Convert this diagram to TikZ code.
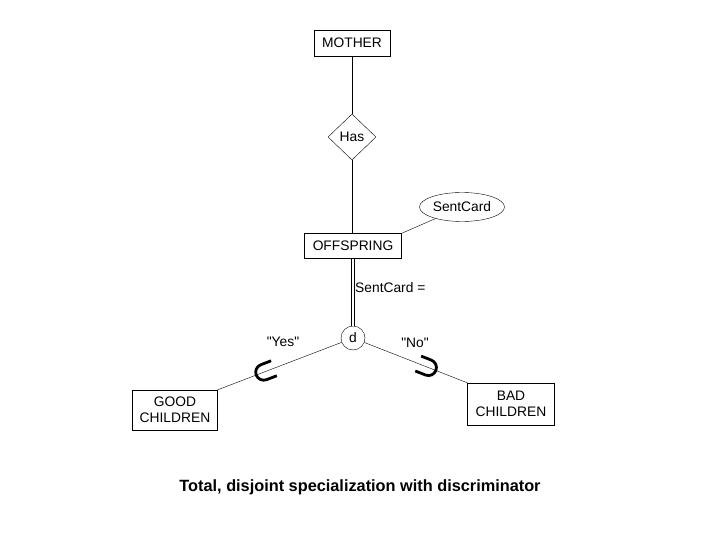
\documentclass[tikz,border=0pt]{standalone}
\usepackage{fontspec}
\setmainfont{Liberation Sans}[Ligatures=TeXOff]
\usetikzlibrary{shapes.geometric,calc}
\begin{document}
\begin{tikzpicture}[x=1pt,y=-1pt,
  lbl/.style={font=\fontsize{13.8}{16}\selectfont},
  ent/.style={draw, rectangle, inner sep=0pt, align=center, lbl},
  subsetmark/.style={line width=2.8pt}]
\useasboundingbox (0,0) rectangle (720,540);
\node[ent, minimum width=76pt, minimum height=26pt] (mother) at (352,43) {MOTHER};
\node[diamond, draw, lbl, minimum width=48pt, minimum height=46pt, inner sep=0pt, aspect=1] (has) at (352,137) {Has};
\node[ent, minimum width=97pt, minimum height=25pt] (off) at (353,246) {OFFSPRING};
\node[ellipse, draw, lbl, minimum width=85pt, minimum height=29pt, inner sep=0pt] (sc) at (462,207) {SentCard};
\node[circle, draw, lbl, minimum size=24pt, inner sep=0pt] (d) at (353,338) {d};
\node[ent, minimum width=85pt, minimum height=40pt] (good) at (175,410) {GOOD\\CHILDREN};
\node[ent, minimum width=87pt, minimum height=42pt] (bad) at (511,404) {BAD\\CHILDREN};
\node[lbl, anchor=west, inner sep=0pt] (disc) at (355,288) {SentCard =};
\node[lbl] (yes) at (283,342) {"Yes"};
\node[lbl] (no) at (415,343) {"No"};
\node[font=\bfseries\fontsize{16.3}{19}\selectfont] (cap) at (360,487) {Total, disjoint specialization with discriminator};
\draw (mother.south) -- (has.north);
\draw (has.south) -- (has.south |- off.north);
\draw (off.north east) -- (sc);
\draw[double, double distance=2.5pt] (off.south) -- (d.north);
\draw (d) -- (good.north east);
\draw (d) -- (bad.north west);
\coordinate (u1) at ($(d)!0.66!(good.north east)$);
\coordinate (u2) at ($(d)!0.66!(bad.north west)$);
\begin{scope}[shift={(u1)}, rotate=20.9]
  \draw[subsetmark] (11,-8) -- (0,-8) arc[start angle=-90, end angle=-270, radius=8] -- (11,8);
\end{scope}
\begin{scope}[shift={(u2)}, rotate=158.5]
  \draw[subsetmark] (11,-8) -- (0,-8) arc[start angle=-90, end angle=-270, radius=8] -- (11,8);
\end{scope}
\end{tikzpicture}
\end{document}
